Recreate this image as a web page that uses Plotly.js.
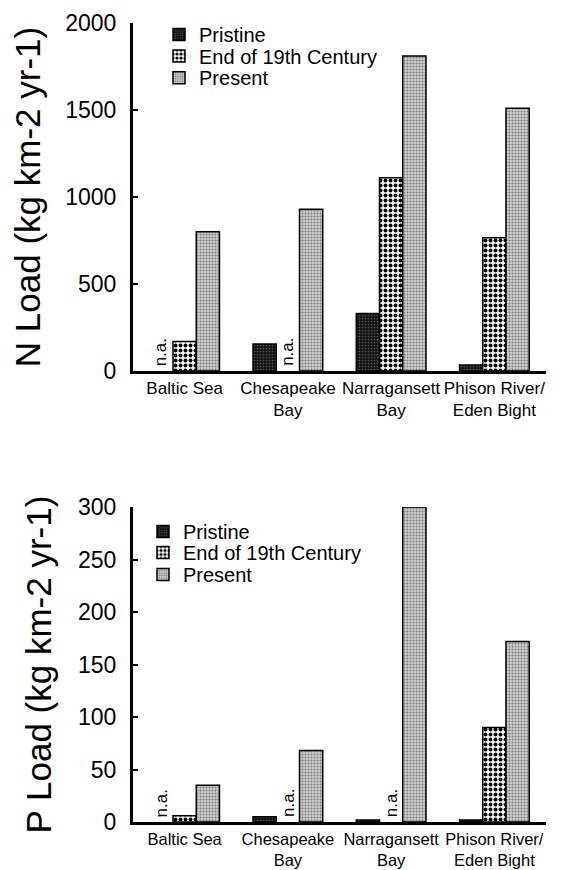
<!DOCTYPE html>
<html>
<head>
<meta charset="utf-8">
<script src="https://cdn.plot.ly/plotly-3.0.1.min.js"></script>
<style>
  html, body { margin: 0; padding: 0; background: #fff; }
  #chart { width: 563px; height: 870px; }
</style>
</head>
<body>
<div id="chart"></div>
<script>
// Estuaries compared
const categories = ['Baltic Sea', 'Chesapeake<br>Bay', 'Narragansett<br>Bay', 'Phison River/<br>Eden Bight'];
const seriesNames = ['Pristine', 'End of 19th Century', 'Present'];

// Nitrogen load, kg km-2 yr-1 (null = not available)
const nPristine = [null, 155, 330, 35];
const nEnd19th = [170, null, 1110, 765];
const nPresent = [800, 930, 1810, 1510];

// Phosphorus load, kg km-2 yr-1 (null = not available)
const pPristine = [null, 5, 2, 2];
const pEnd19th = [6, null, null, 90];
const pPresent = [35, 68, 300, 172];

// Tick values
const nTicks = [0, 500, 1000, 1500, 2000];
const pTicks = [0, 50, 100, 150, 200, 250, 300];

const FONT = 'Liberation Sans, Arial, Helvetica, sans-serif';
const BARGAP = 0.325;
const slot = (1 - BARGAP) / 3;

const fills = [
  { color: '#141414', pattern: { shape: '.', fgcolor: '#555', bgcolor: '#141414', size: 3, solidity: 0.25 } },
  { color: '#ffffff', pattern: { shape: '.', fgcolor: '#000', bgcolor: '#ffffff', size: 5, solidity: 0.5 } },
  { color: '#c8c8c8', pattern: { shape: '.', fgcolor: '#7c7c7c', bgcolor: '#d0d0d0', size: 3, solidity: 0.4 } }
];

// one single-entry legend per series and panel, stacked like a key
const legendIds = [['legend', 'legend2', 'legend3'], ['legend4', 'legend5', 'legend6']];

function barTrace(name, values, k, panel) {
  return {
    type: 'bar',
    name: name,
    x: categories,
    y: values,
    xaxis: panel === 0 ? 'x' : 'x2',
    yaxis: panel === 0 ? 'y' : 'y2',
    legend: legendIds[panel][k],
    marker: {
      color: fills[k].color,
      pattern: fills[k].pattern,
      line: { color: '#000', width: 1.5 }
    },
    hoverinfo: 'skip'
  };
}

const series = [[nPristine, nEnd19th, nPresent], [pPristine, pEnd19th, pPresent]];
const data = [];
series.forEach(function (group, panel) {
  group.forEach(function (vals, k) {
    data.push(barTrace(seriesNames[k], vals, k, panel));
  });
});

// "n.a." marks in the slot of each missing value
const annotations = [];
series.forEach(function (group, panel) {
  group.forEach(function (vals, k) {
    vals.forEach(function (v, i) {
      if (v === null) {
        annotations.push({
          x: i + (k - 1) * slot,
          y: 0,
          xref: panel === 0 ? 'x' : 'x2',
          yref: panel === 0 ? 'y' : 'y2',
          text: 'n.a.',
          textangle: -90,
          showarrow: false,
          xanchor: 'center',
          yanchor: 'bottom',
          yshift: 3,
          font: { family: FONT, size: 17, color: '#000' }
        });
      }
    });
  });
});

function xAxis(anchor, standoff, size) {
  return {
    anchor: anchor,
    type: 'category',
    range: [-0.5, 3.5],
    showline: true,
    linecolor: '#000',
    linewidth: 3,
    ticks: '',
    showgrid: false,
    zeroline: false,
    tickfont: { family: FONT, size: size, color: '#000' },
    ticklabelstandoff: standoff,
    fixedrange: true
  };
}

function yAxis(anchor, domain, range, ticks, title, standoff) {
  return {
    anchor: anchor,
    domain: domain,
    range: range,
    tickvals: ticks,
    showline: true,
    linecolor: '#000',
    linewidth: 3,
    ticks: 'inside',
    ticklen: 5,
    tickwidth: 2,
    tickcolor: '#000',
    showgrid: false,
    zeroline: false,
    tickfont: { family: FONT, size: 23, color: '#000' },
    ticklabelstandoff: 9,
    title: { text: title, font: { family: FONT, size: 35, color: '#000' }, standoff: standoff },
    fixedrange: true
  };
}

function legendAt(x, y) {
  return {
    x: x, y: y,
    xref: 'paper', yref: 'paper',
    xanchor: 'left', yanchor: 'top',
    bgcolor: 'rgba(0,0,0,0)',
    borderwidth: 0,
    font: { family: FONT, size: 20, color: '#000' },
    itemwidth: 30
  };
}

const layout = {
  width: 563,
  height: 870,
  paper_bgcolor: '#fff',
  plot_bgcolor: '#fff',
  margin: { l: 133, r: 17, t: 23, b: 48 },
  barmode: 'group',
  bargap: BARGAP,
  bargroupgap: 0,
  showlegend: true,
  font: { family: FONT, color: '#000' },
  xaxis: xAxis('y', 0, 17),
  yaxis: yAxis('x', [0.5645, 1], [0, 2000], nTicks, 'N Load (kg km-2 yr-1)', 14),
  xaxis2: xAxis('y2', 0, 16.5),
  yaxis2: yAxis('x2', [0, 0.3942], [0, 300], pTicks, 'P Load (kg km-2 yr-1)', 16),
  legend: legendAt(0.063, 1.01),
  legend2: legendAt(0.063, 0.983),
  legend3: legendAt(0.063, 0.956),
  legend4: legendAt(0.0242, 0.388),
  legend5: legendAt(0.0242, 0.3617),
  legend6: legendAt(0.0242, 0.3342),
  annotations: annotations
};

Plotly.newPlot('chart', data, layout, { displayModeBar: false, staticPlot: true });
</script>
</body>
</html>
